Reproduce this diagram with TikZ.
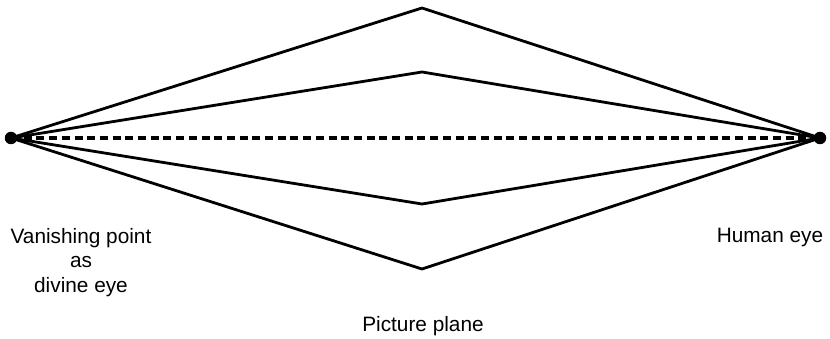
\documentclass[tikz,border=0pt]{standalone}
\usepackage{fontspec}
\setmainfont{Liberation Sans}
\begin{document}
\begin{tikzpicture}[x=1pt,y=-1pt,
  eye/.style={circle,fill=black,inner sep=0pt,minimum size=12.5pt},
  ray/.style={line width=2.8pt,line join=miter},
  sightline/.style={line width=3.4pt,dash pattern=on 8pt off 4.7pt},
  lbl/.style={font=\fontsize{20.8}{24.5}\selectfont,align=center,inner sep=0pt,anchor=base}]
\useasboundingbox (0,0) rectangle (830,339);
\coordinate (L) at (11,138);
\coordinate (R) at (820,138);
\coordinate (A1) at (422,8);
\coordinate (A2) at (422,72);
\coordinate (A3) at (422,204);
\coordinate (A4) at (422,269);
\draw[ray] (L) -- (A1) -- (R);
\draw[ray] (L) -- (A2) -- (R);
\draw[ray] (L) -- (A3) -- (R);
\draw[ray] (L) -- (A4) -- (R);
\draw[sightline] (L) -- (R);
\node[eye] (Ld) at (L) {};
\node[eye] (Rd) at (R) {};
\node[lbl] (vp) at (81,292) {Vanishing point\\as\\divine eye};
\node[lbl] (he) at (770,243) {Human eye};
\node[lbl] (pp) at (423,331) {Picture plane};
\end{tikzpicture}
\end{document}
